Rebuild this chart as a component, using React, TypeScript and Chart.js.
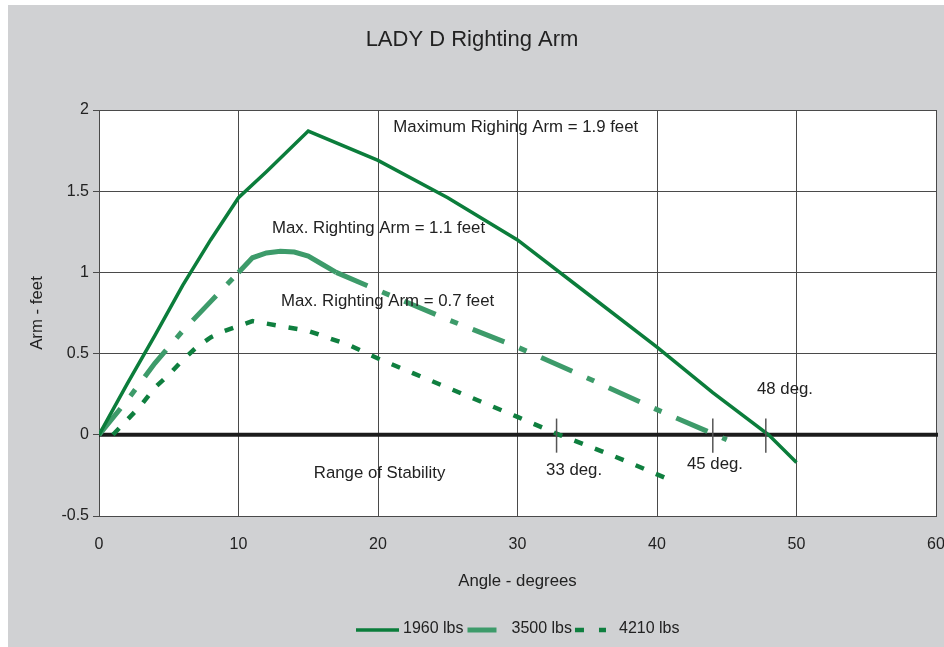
import React, { useEffect, useRef } from 'react';
import { Chart, registerables } from 'chart.js';

Chart.register(...registerables);

// ---- data ----
const seriesLabels = ['1960 lbs', '3500 lbs', '4210 lbs'];

const angles1960 = [0, 2, 4, 6, 8, 10, 12, 15, 20, 25, 30, 35, 40, 44, 48, 50];
const arm1960 = [0, 0.31, 0.61, 0.92, 1.2, 1.46, 1.62, 1.87, 1.69, 1.46, 1.2, 0.87, 0.54, 0.26, 0, -0.17];

const angles3500 = [0, 2, 4, 6, 8, 10, 11, 12, 13, 14, 15, 16, 17, 20, 25, 30, 35, 40, 45];
const arm3500 = [0, 0.21, 0.44, 0.64, 0.82, 1.0, 1.09, 1.12, 1.13, 1.125, 1.1, 1.05, 1.0, 0.89, 0.71, 0.54, 0.35, 0.155, -0.03];

const angles4210 = [1, 2, 3, 4, 5, 6, 7, 8, 9, 10, 11, 12, 13, 15, 16, 18, 20, 22.5, 25, 27.5, 30, 33, 36, 38, 41];
const arm4210 = [0, 0.09, 0.18, 0.29, 0.37, 0.46, 0.54, 0.6, 0.64, 0.67, 0.7, 0.685, 0.67, 0.64, 0.61, 0.55, 0.47, 0.38, 0.29, 0.2, 0.11, 0, -0.1, -0.17, -0.28];

const xTicks = [0, 10, 20, 30, 40, 50, 60];
const yTicks = [-0.5, 0, 0.5, 1, 1.5, 2];

const annotationTexts = [
  { text: 'Maximum Righing Arm = 1.9 feet', x: 21.1, y: 1.89 },
  { text: 'Max. Righting Arm = 1.1 feet', x: 12.4, y: 1.27 },
  { text: 'Max. Righting Arm = 0.7 feet', x: 13.05, y: 0.82 },
  { text: 'Range of Stability', x: 15.4, y: -0.24 },
  { text: '33 deg.', x: 32.05, y: -0.22 },
  { text: '45 deg.', x: 42.15, y: -0.18 },
  { text: '48 deg.', x: 47.17, y: 0.28 },
];
const stabilityMarks = [32.8, 44.0, 47.8];

const FONT = "'Liberation Sans', Arial, Helvetica, sans-serif";
const TEXT = '#222222';
const GRID = '#4a4a4a';
const C1960 = '#0b7d3b';
const C3500 = '#3d9b6a';
const C4210 = '#0f7f3f';

function pts(xs: number[], ys: number[]) {
  return xs.map((x, i) => ({ x, y: ys[i] }));
}

export default function App() {
  const ref = useRef<HTMLCanvasElement>(null);

  useEffect(() => {
    const canvas = ref.current;
    if (!canvas) return;

    const plotBg = {
      id: 'plotBg',
      beforeDraw(chart: any) {
        const { ctx, chartArea: a } = chart;
        ctx.save();
        ctx.fillStyle = '#ffffff';
        ctx.fillRect(a.left, a.top, a.right - a.left, a.bottom - a.top);
        ctx.restore();
      },
    };

    const zeroLine = {
      id: 'zeroLine',
      beforeDatasetsDraw(chart: any) {
        const { ctx, chartArea: a, scales } = chart;
        const y0 = scales.y.getPixelForValue(0);
        ctx.save();
        ctx.strokeStyle = '#1c1c1c';
        ctx.lineWidth = 4;
        ctx.beginPath();
        ctx.moveTo(scales.x.getPixelForValue(0), y0);
        ctx.lineTo(a.right + 2, y0);
        ctx.stroke();
        ctx.restore();
      },
    };

    const notes = {
      id: 'notes',
      afterDatasetsDraw(chart: any) {
        const { ctx, scales } = chart;
        ctx.save();
        ctx.font = `16.8px ${FONT}`;
        ctx.fillStyle = TEXT;
        ctx.textAlign = 'left';
        ctx.textBaseline = 'middle';
        annotationTexts.forEach((n) => {
          ctx.fillText(n.text, scales.x.getPixelForValue(n.x), scales.y.getPixelForValue(n.y));
        });
        ctx.strokeStyle = '#555555';
        ctx.lineWidth = 1.5;
        stabilityMarks.forEach((m) => {
          const px = scales.x.getPixelForValue(m);
          ctx.beginPath();
          ctx.moveTo(px, scales.y.getPixelForValue(0.1));
          ctx.lineTo(px, scales.y.getPixelForValue(-0.11));
          ctx.stroke();
        });
        ctx.restore();
      },
    };

    const legendSpec = [
      { sample: 43, textGap: 4, after: 4 },
      { sample: 29, textGap: 15, after: 3 },
      { sample: 31, textGap: 13, after: 0 },
    ];
    const customLegend = {
      id: 'customLegend',
      afterDraw(chart: any) {
        const { ctx } = chart;
        ctx.save();
        ctx.font = `16px ${FONT}`;
        ctx.textBaseline = 'middle';
        ctx.textAlign = 'left';
        let x = 348;
        const y = 625;
        chart.data.datasets.forEach((ds: any, i: number) => {
          const spec = legendSpec[i];
          ctx.strokeStyle = ds.borderColor;
          ctx.lineWidth = ds.borderWidth;
          ctx.setLineDash(ds.legendDash || []);
          ctx.beginPath();
          ctx.moveTo(x, y);
          ctx.lineTo(x + spec.sample, y);
          ctx.stroke();
          ctx.setLineDash([]);
          x += spec.sample + spec.textGap;
          ctx.fillStyle = TEXT;
          ctx.fillText(ds.label, x, y - 1);
          x += ctx.measureText(ds.label).width + spec.after;
        });
        ctx.restore();
      },
    };

    const chart = new Chart(canvas, {
      type: 'line',
      data: {
        datasets: [
          {
            label: seriesLabels[0],
            data: pts(angles1960, arm1960),
            borderColor: C1960,
            borderWidth: 3.5,
            pointRadius: 0,
            tension: 0,
            fill: false,
            legendDash: [],
          } as any,
          {
            label: seriesLabels[1],
            data: pts(angles3500, arm3500),
            borderColor: C3500,
            borderWidth: 5,
            pointRadius: 0,
            tension: 0,
            fill: false,
            borderDash: [34, 16, 8, 16],
            segment: {
              borderDash: (c: any) =>
                c.p0.parsed.x >= 10 && c.p1.parsed.x <= 17 ? [] : [34, 16, 8, 16],
            },
            legendDash: [],
          } as any,
          {
            label: seriesLabels[2],
            data: pts(angles4210, arm4210),
            borderColor: C4210,
            borderWidth: 4.5,
            pointRadius: 0,
            tension: 0,
            fill: false,
            borderDash: [9, 13],
            legendDash: [9, 15],
          } as any,
        ],
      },
      options: {
        responsive: false,
        animation: false,
        layout: { padding: { left: 0, right: 8, top: 0, bottom: 0 } },
        plugins: {
          legend: { display: false },
          tooltip: { enabled: false },
          title: {
            display: true,
            text: 'LADY D Righting Arm',
            color: TEXT,
            font: { family: FONT, size: 22, weight: 'normal' },
            padding: { top: 22, bottom: 56.6 },
          },
        },
        scales: {
          x: {
            type: 'linear',
            min: xTicks[0],
            max: xTicks[xTicks.length - 1],
            ticks: {
              stepSize: xTicks[1] - xTicks[0],
              color: TEXT,
              font: { family: FONT, size: 16 },
              padding: 19,
              maxRotation: 0,
            },
            grid: { color: GRID, lineWidth: 1, drawTicks: false },
            border: { color: GRID, width: 1 },
            title: {
              display: true,
              text: 'Angle - degrees',
              color: TEXT,
              font: { family: FONT, size: 16.8 },
              padding: { top: 0, bottom: 56 },
            },
            afterFit: (s: any) => {
              s.height = 131;
              s.paddingLeft = 0;
              s.paddingRight = 0;
            },
          },
          y: {
            type: 'linear',
            min: yTicks[0],
            max: yTicks[yTicks.length - 1],
            ticks: {
              stepSize: yTicks[1] - yTicks[0],
              color: TEXT,
              font: { family: FONT, size: 16 },
              padding: 4,
              callback: (v: any) => String(Number(v)),
            },
            grid: { color: GRID, lineWidth: 1, tickLength: 6, tickColor: GRID },
            border: { color: GRID, width: 1 },
            title: {
              display: true,
              text: 'Arm - feet',
              color: TEXT,
              font: { family: FONT, size: 16.8 },
              padding: { top: 19, bottom: 0 },
            },
            afterFit: (s: any) => {
              s.width = 91;
              s.paddingTop = 0;
              s.paddingBottom = 0;
            },
          },
        },
      } as any,
      plugins: [plotBg, zeroLine, notes, customLegend],
    });

    return () => chart.destroy();
  }, []);

  return (
    <div
      style={{
        position: 'absolute',
        left: 8,
        top: 5,
        width: 936,
        height: 642,
        background: '#d0d1d3',
      }}
    >
      <canvas ref={ref} width={936} height={642} style={{ display: 'block' }} />
    </div>
  );
}
